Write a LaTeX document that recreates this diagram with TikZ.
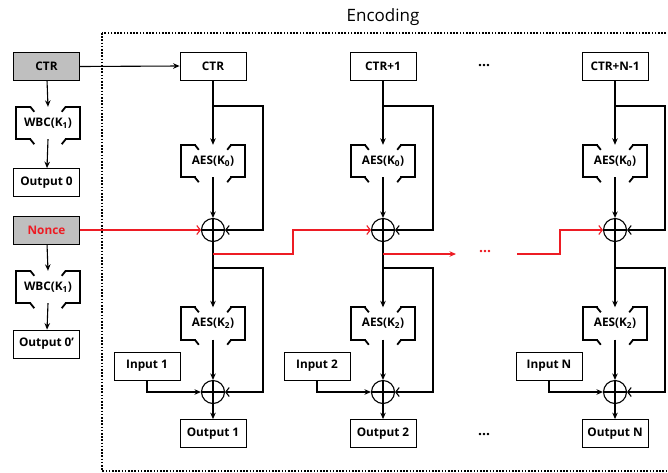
\documentclass[tikz,border=0pt]{standalone}
\usepackage{fontspec}
\setmainfont{Open Sans}
\usetikzlibrary{arrows.meta,calc}
\definecolor{boxgray}{RGB}{191,191,191}
\definecolor{nred}{RGB}{237,28,36}
\tikzset{
  wire/.style={line width=1.1pt},
  arr/.style={wire,-{Stealth[length=6.5pt,width=5.5pt]}},
  barb/.style={wire,-{Straight Barb[length=3.5pt,width=9pt]}},
  blk/.style={draw, line width=0.8pt, minimum width=66pt, minimum height=28pt,
    inner sep=0pt, font=\bfseries\fontsize{11.8}{13}\selectfont},
  graybox/.style={blk, fill=boxgray},
  fn/.style={minimum width=63pt, minimum height=32pt, inner sep=0pt,
    font=\bfseries\fontsize{11.8}{13}\selectfont},
  bracket/.style={line width=2.2pt, line cap=rect},
  xor/.style={circle, draw, line width=1.1pt, minimum size=23pt, inner sep=0pt,
    path picture={\draw[line width=1.1pt]
      (path picture bounding box.north) -- (path picture bounding box.south)
      (path picture bounding box.west) -- (path picture bounding box.east);}},
  dots/.style={font=\bfseries\fontsize{14}{16}\selectfont},
  frame/.style={line width=1.6pt, dash pattern=on 1.6pt off 1.6pt},
}
% white-box brackets around a function node
\newcommand\wbframe[1]{%
  \draw[bracket] ($(#1.north west)+(14,0)$) -- (#1.north west) -- (#1.south west) -- ($(#1.south west)+(14,0)$);
  \draw[bracket] ($(#1.north east)+(-14,0)$) -- (#1.north east) -- (#1.south east) -- ($(#1.south east)+(-14,0)$);
  \draw[line width=1.8pt] ($(#1.north west)+(14,0)$) -- ++(4,5);
  \draw[line width=1.8pt] ($(#1.south west)+(14,0)$) -- ++(4,5);
  \draw[line width=1.8pt] ($(#1.north east)+(-14,0)$) -- ++(-4,5);
  \draw[line width=1.8pt] ($(#1.south east)+(-14,0)$) -- ++(-4,5);
}
\begin{document}
\begin{tikzpicture}[x=1pt,y=-1pt]
\clip (0,0) rectangle (668,472);
\useasboundingbox (0,0) rectangle (668,472);

% encoding frame
\draw[frame] (102,33) rectangle (690,471);
\node[font=\fontsize{17}{20}\selectfont] (enc) at (383,17) {Encoding};

% white-box part on the left
\node[graybox] (ctr) at (46.5,66.5) {CTR};
\node[fn] (wbc1) at (48,123) {WBC(K\textsubscript{1})};
\wbframe{wbc1}
\node[blk] (out0) at (46.5,182.5) {Output 0};
\node[graybox, text=nred] (nonce) at (46.5,230) {Nonce};
\node[fn] (wbc2) at (48,287) {WBC(K\textsubscript{1})};
\wbframe{wbc2}
\node[blk] (out0p) at (46.5,344) {Output 0’};

\draw[arr] (ctr) -- (wbc1.north);
\draw[arr] (wbc1.south) -- (out0);
\draw[arr] (nonce) -- (wbc2.north);
\draw[arr] (wbc2.south) -- (out0p);

% counter columns
\foreach \i/\cx/\lbl/\inp/\outp in {1/213/CTR/Input 1/Output 1,
    2/383/CTR+1/Input 2/Output 2, 3/615/CTR+N-1/Input N/Output N}{
  \node[blk] (top\i) at (\cx,66) {\lbl};
  \node[fn, minimum width=64pt] (aesa\i) at (\cx,161) {AES(K\textsubscript{0})};
  \wbframe{aesa\i}
  \node[xor] (xa\i) at (\cx,230) {};
  \node[fn, minimum width=64pt] (aesb\i) at (\cx,323.5) {AES(K\textsubscript{2})};
  \wbframe{aesb\i}
  \node[xor] (xb\i) at (\cx,392) {};
  \node[blk] (out\i) at (\cx,433.5) {\outp};
  \node[blk] (in\i) at (\cx-66,366) {\inp};
  \coordinate (ba\i) at (\cx,106);
  \coordinate (bb\i) at (\cx,268);

  \draw[arr] (top\i) -- (aesa\i.north);
  \draw[barb] (ba\i) -- ++(50,0) |- (xa\i.east);
  \draw[arr] (aesa\i.south) -- (xa\i.north);
  \draw[arr] (xa\i.south) -- (aesb\i.north);
  \draw[barb] (bb\i) -- ++(50,0) |- (xb\i.east);
  \draw[arr] (aesb\i.south) -- (xb\i.north);
  \draw[arr] (in\i.south) |- (xb\i.west);
  \draw[arr] (xb\i.south) -- (out\i.north);
}

\draw[arr] (ctr.east) -- (top1.west);

% nonce chain
\coordinate (rb1) at (213,254);
\coordinate (rb2) at (383,254);
\coordinate (rend) at (456,254);
\coordinate (rstart) at (517,254);
\draw[barb, nred] (nonce.east) -- (xa1.west);
\draw[barb, nred] (rb1) -- ++(80,0) |- (xa2.west);
\draw[arr, nred] (rb2) -- (rend);
\draw[barb, nred] (rstart) -- ++(43,0) |- (xa3.west);

\node[dots, text=nred] (rdots) at (485,252) {…};
\node[dots] (dtop) at (484,66) {…};
\node[dots] (dbot) at (484,435) {…};
\end{tikzpicture}
\end{document}
